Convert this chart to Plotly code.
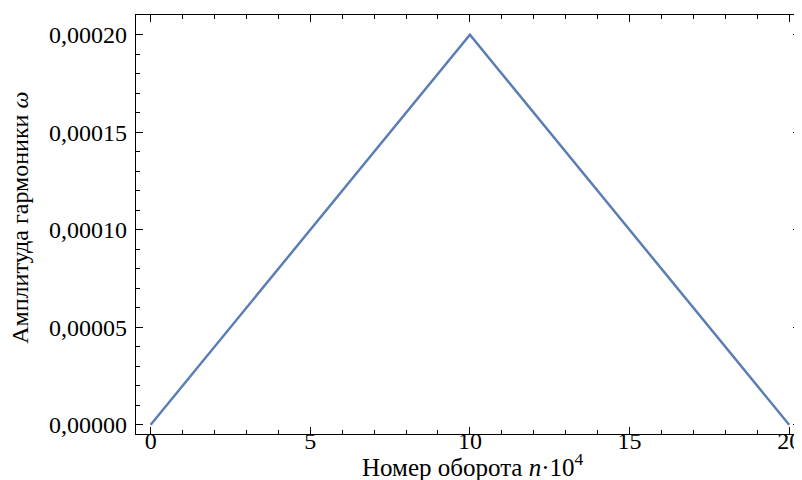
import plotly.graph_objects as go

turns = [0, 10, 20]
amplitude = [0.0, 0.0002, 0.0]

x_title = "Номер оборота <i>n</i>·10<sup>4</sup>"
y_title = "Амплитуда гармоники <i>ω</i>"

font = "Liberation Serif"
fig = go.Figure()
fig.add_trace(go.Scatter(x=turns, y=amplitude, mode="lines",
                         line=dict(color="#5a7fb6", width=2.5), showlegend=False))

axis_common = dict(showgrid=False, zeroline=False, showline=True, linecolor="black",
                   linewidth=1.3, ticks="inside", ticklen=7, tickwidth=1.3,
                   tickcolor="black", mirror="allticks", automargin=False,
                   tickfont=dict(family=font, size=24, color="black"))

fig.update_xaxes(range=[-0.46, 20.34], tickvals=[0, 5, 10, 15, 20], ticklabelstandoff=-15,
                 minor=dict(dtick=1, ticks="inside", ticklen=4, tickwidth=1.1, tickcolor="black"),
                 **axis_common)
fig.update_yaxes(range=[-0.0000047, 0.0002101], tickvals=[0, 0.00005, 0.0001, 0.00015, 0.0002],
                 tickformat=".5f", ticklabelstandoff=3,
                 minor=dict(dtick=0.00001, ticks="inside", ticklen=4, tickwidth=1.1, tickcolor="black"),
                 **axis_common)

fig.add_annotation(text=x_title, xref="paper", yref="paper", x=0.5075, y=-0.075,
                   xanchor="center", yanchor="middle", showarrow=False,
                   font=dict(family=font, size=25, color="black"))
fig.add_annotation(text=y_title, xref="paper", yref="paper", x=-0.1747, y=0.516,
                   xanchor="center", yanchor="middle", textangle=-90, showarrow=False,
                   font=dict(family=font, size=24, color="black"))

# the page offsets the figure by the body's 8px margin, so the figure is 8px smaller
fig.update_layout(width=794, height=472, separators=", ",
                  margin=dict(l=128, r=2, t=7, b=46, autoexpand=False),
                  plot_bgcolor="white", paper_bgcolor="white")
fig.write_html("out.html")
